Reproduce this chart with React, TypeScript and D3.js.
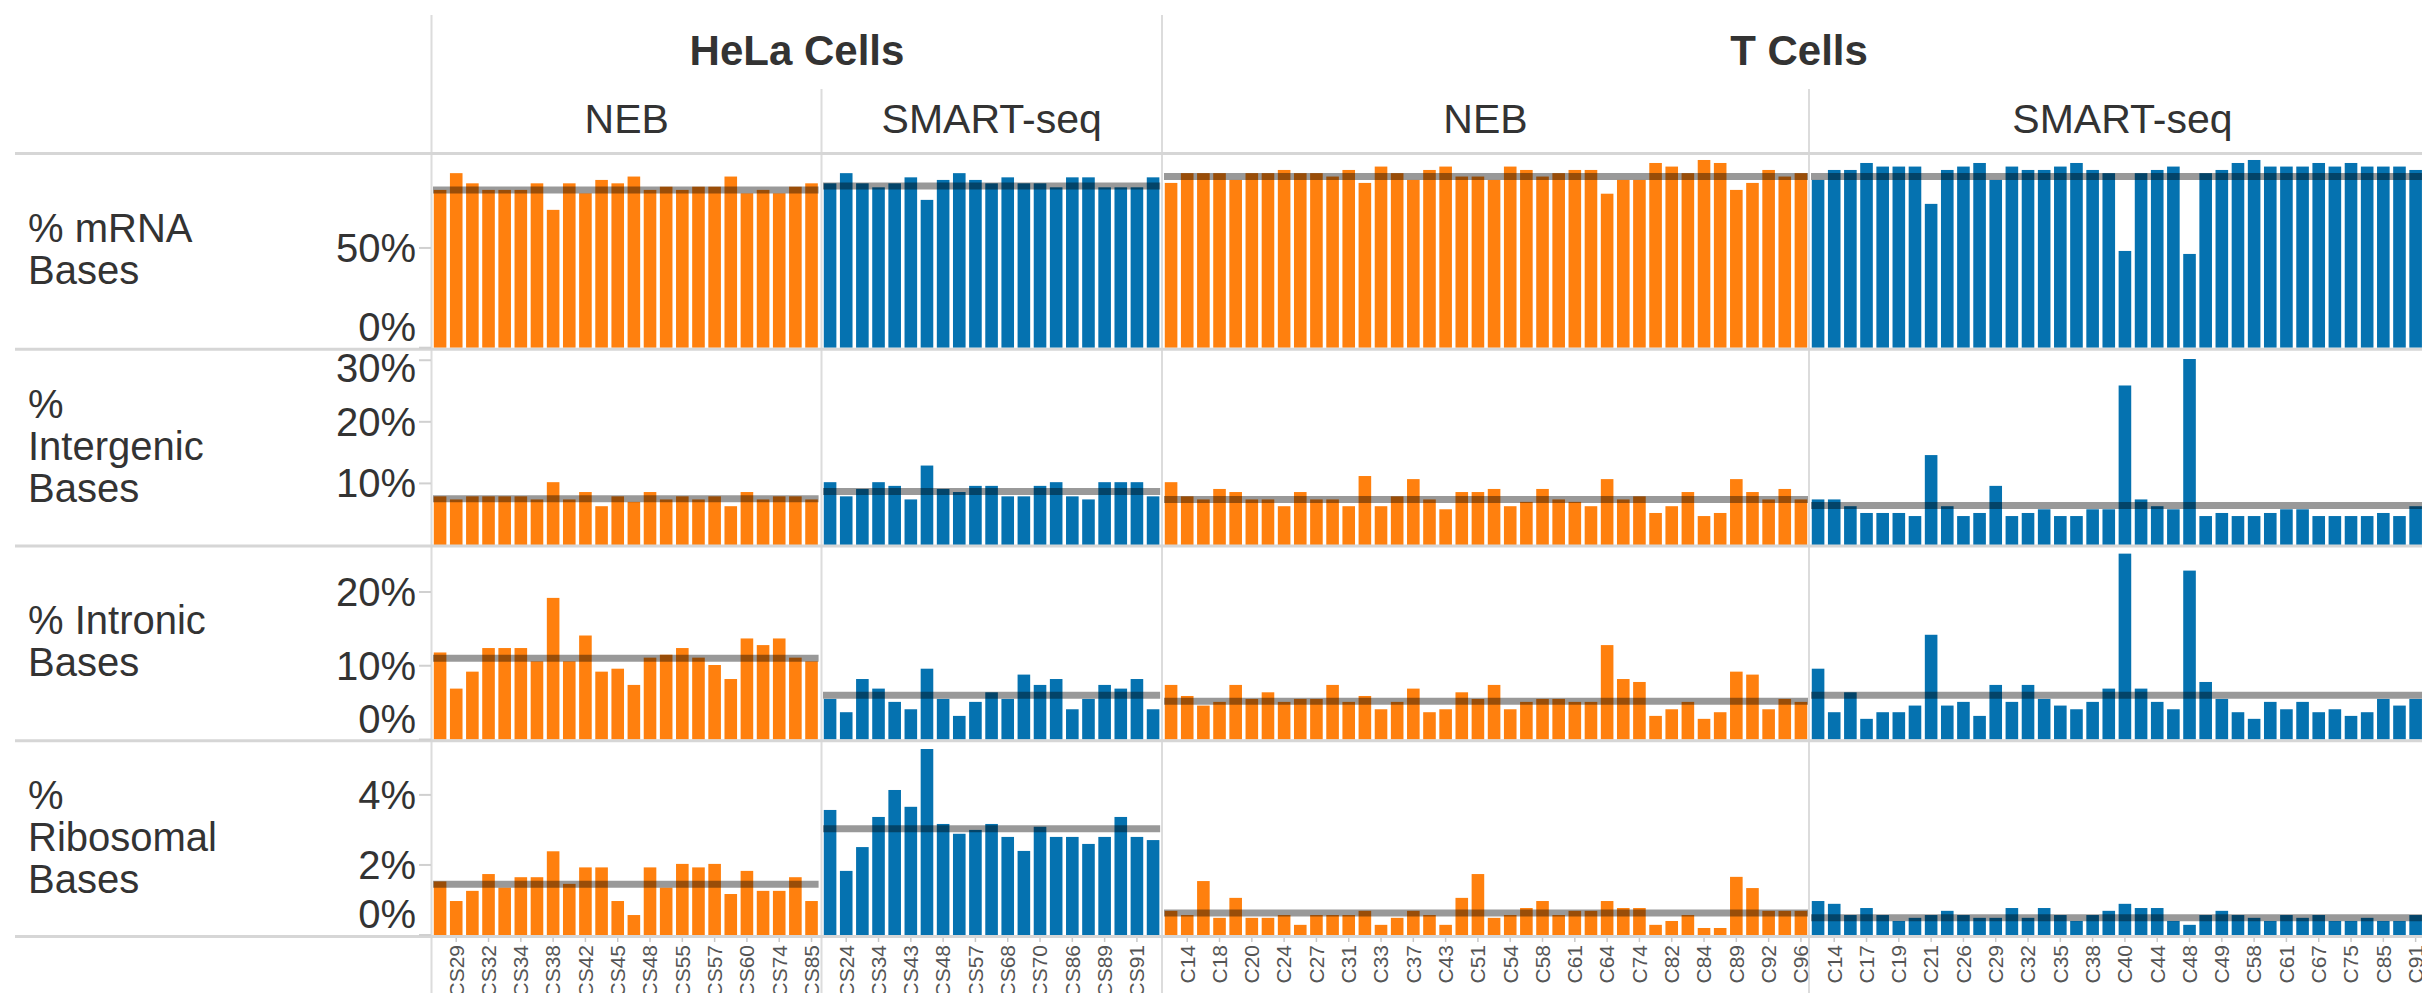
import React, { useEffect, useRef } from "react";
import * as d3 from "d3";

// ---- categories (cells) in each pane ----
const helaNebCells = ["CS27", "CS29", "CS31", "CS32", "CS33", "CS34", "CS36", "CS38", "CS40", "CS42", "CS44", "CS45", "CS46", "CS48", "CS50", "CS55", "CS56", "CS57", "CS59", "CS60", "CS62", "CS74", "CS80", "CS85"];
const helaSmartCells = ["CS22", "CS24", "CS30", "CS34", "CS39", "CS43", "CS46", "CS48", "CS52", "CS57", "CS58", "CS68", "CS69", "CS70", "CS79", "CS86", "CS87", "CS89", "CS90", "CS91", "CS95"];
const tNebCells = ["C13", "C14", "C16", "C18", "C19", "C20", "C22", "C24", "C25", "C27", "C29", "C31", "C32", "C33", "C35", "C37", "C40", "C43", "C46", "C51", "C52", "C54", "C56", "C58", "C59", "C61", "C62", "C64", "C70", "C74", "C78", "C82", "C83", "C84", "C86", "C89", "C90", "C92", "C94", "C96"];
const tSmartCells = ["C13", "C14", "C15", "C17", "C18", "C19", "C20", "C21", "C23", "C26", "C27", "C29", "C31", "C32", "C33", "C35", "C36", "C38", "C39", "C40", "C43", "C44", "C46", "C48", "C41", "C49", "C52", "C58", "C60", "C61", "C63", "C67", "C71", "C75", "C80", "C85", "C87", "C91"];

// ---- % mRNA bases ----
const helaNebMrna = [79.1, 87.5, 82.4, 79.1, 79.1, 79.1, 82.4, 69.1, 82.4, 77.4, 84.1, 82.4, 85.8, 79.1, 80.7, 79.1, 80.7, 80.7, 85.8, 77.4, 79.1, 77.4, 80.7, 82.4];
const helaSmartMrna = [82.4, 87.5, 82.4, 80.4, 82.4, 85.4, 74.1, 84.1, 87.5, 84.1, 82.4, 85.4, 82.4, 82.4, 80.4, 85.4, 85.4, 80.4, 80.4, 80.4, 85.4];
const tNebMrna = [82.6, 87.5, 87.5, 87.5, 84.1, 87.5, 87.5, 89.1, 87.5, 87.5, 85.8, 89.1, 82.6, 90.8, 87.5, 84.1, 89.1, 90.8, 85.8, 85.8, 84.1, 90.8, 89.1, 85.8, 87.5, 89.1, 89.1, 77.2, 84.1, 84.1, 92.6, 90.8, 87.5, 94.1, 92.6, 79.1, 82.6, 89.1, 85.8, 87.5];
const tSmartMrna = [84.1, 89.1, 89.1, 92.6, 90.8, 90.8, 90.8, 72.1, 89.1, 90.8, 92.6, 84.1, 90.8, 89.1, 89.1, 90.8, 92.6, 89.1, 87.5, 48.5, 87.5, 89.1, 90.8, 47.0, 87.5, 89.1, 92.6, 94.1, 90.8, 90.8, 90.8, 92.6, 90.8, 92.6, 90.8, 90.8, 90.8, 89.1];

// ---- % intergenic bases ----
const helaNebInter = [7.9, 7.4, 7.9, 7.9, 7.9, 7.9, 7.4, 10.2, 7.4, 8.6, 6.3, 7.9, 7.0, 8.6, 7.4, 7.9, 7.4, 7.9, 6.3, 8.6, 7.4, 7.9, 7.9, 7.4];
const helaSmartInter = [10.2, 7.9, 9.1, 10.2, 9.6, 7.4, 12.9, 9.1, 8.6, 9.6, 9.6, 7.9, 7.9, 9.6, 10.2, 7.9, 7.4, 10.2, 10.2, 10.2, 7.9];
const tNebInter = [10.2, 7.9, 7.4, 9.1, 8.6, 7.4, 7.4, 6.3, 8.6, 7.4, 7.4, 6.3, 11.2, 6.3, 7.9, 10.7, 7.4, 5.8, 8.6, 8.6, 9.1, 6.3, 7.0, 9.1, 7.4, 7.0, 6.3, 10.7, 7.4, 7.9, 5.2, 6.3, 8.6, 4.7, 5.2, 10.7, 8.6, 7.4, 9.1, 7.4];
const tSmartInter = [7.4, 7.4, 6.3, 5.2, 5.2, 5.2, 4.7, 14.6, 6.3, 4.7, 5.2, 9.6, 4.7, 5.2, 5.8, 4.7, 4.7, 5.8, 5.8, 25.9, 7.4, 6.3, 5.8, 30.2, 4.7, 5.2, 4.7, 4.7, 5.2, 5.8, 5.8, 4.7, 4.7, 4.7, 4.7, 5.2, 4.7, 6.3];

// ---- % intronic bases ----
const helaNebIntron = [11.8, 6.9, 9.2, 12.4, 12.4, 12.4, 10.6, 19.2, 10.6, 14.1, 9.2, 9.6, 7.4, 11.1, 11.5, 12.4, 11.1, 10.1, 8.2, 13.7, 12.8, 13.7, 11.1, 10.6];
const helaSmartIntron = [5.5, 3.7, 8.2, 6.9, 5.1, 4.1, 9.6, 5.5, 3.2, 5.1, 6.4, 5.5, 8.8, 7.4, 8.2, 4.1, 5.5, 7.4, 6.9, 8.2, 4.1];
const tNebIntron = [7.4, 5.9, 4.6, 5.1, 7.4, 5.5, 6.4, 5.1, 5.5, 5.5, 7.4, 5.1, 5.9, 4.1, 5.1, 6.9, 3.7, 4.1, 6.4, 5.5, 7.4, 4.1, 5.1, 5.5, 5.5, 5.1, 5.1, 12.8, 8.2, 7.8, 3.2, 4.1, 5.1, 2.8, 3.7, 9.2, 8.8, 4.1, 5.5, 5.1];
const tSmartIntron = [9.6, 3.7, 6.4, 2.8, 3.7, 3.7, 4.6, 14.2, 4.6, 5.1, 3.2, 7.4, 5.1, 7.4, 5.5, 4.6, 4.1, 5.1, 6.9, 25.2, 6.9, 5.1, 4.1, 22.9, 7.8, 5.5, 3.7, 2.8, 5.1, 4.1, 5.1, 3.7, 4.1, 3.2, 3.7, 5.5, 4.6, 5.5];

// ---- % ribosomal bases ----
const helaNebRibo = [1.53, 0.97, 1.26, 1.74, 1.35, 1.65, 1.65, 2.39, 1.46, 1.93, 1.93, 0.97, 0.57, 1.93, 1.35, 2.03, 1.93, 2.03, 1.17, 1.83, 1.26, 1.26, 1.65, 0.97];
const helaSmartRibo = [3.57, 1.83, 2.51, 3.37, 4.14, 3.66, 5.31, 3.17, 2.89, 3.0, 3.17, 2.8, 2.4, 3.09, 2.8, 2.8, 2.6, 2.8, 3.37, 2.8, 2.71];
const tNebRibo = [0.69, 0.57, 1.54, 0.49, 1.06, 0.49, 0.49, 0.57, 0.29, 0.57, 0.57, 0.57, 0.69, 0.29, 0.49, 0.69, 0.57, 0.29, 1.06, 1.74, 0.49, 0.57, 0.77, 0.97, 0.57, 0.69, 0.69, 0.97, 0.77, 0.77, 0.29, 0.4, 0.57, 0.2, 0.2, 1.66, 1.34, 0.69, 0.69, 0.69];
const tSmartRibo = [0.97, 0.89, 0.57, 0.77, 0.57, 0.4, 0.49, 0.57, 0.69, 0.57, 0.49, 0.49, 0.77, 0.49, 0.77, 0.57, 0.4, 0.57, 0.69, 0.89, 0.77, 0.77, 0.4, 0.29, 0.57, 0.69, 0.57, 0.49, 0.4, 0.57, 0.49, 0.57, 0.4, 0.4, 0.49, 0.4, 0.4, 0.57];

// ---- average reference lines, per pane (HeLa NEB, HeLa SMART, T NEB, T SMART) ----
const refMrna = [79.1, 81.0, 85.8, 85.8];
const refInter = [7.5, 8.7, 7.4, 6.4];
const refIntron = [11.0, 6.0, 5.2, 6.0];
const refRibo = [1.45, 3.03, 0.63, 0.49];

// ---- labels ----
const cellTypes = ["HeLa Cells", "T Cells"];
const protocols = ["NEB", "SMART-seq"];
const metricLabels = [["% mRNA", "Bases"], ["%", "Intergenic", "Bases"], ["% Intronic", "Bases"], ["%", "Ribosomal", "Bases"]];
const metricTicks = [[0, 50], [10, 20, 30], [0, 10, 20], [0, 2, 4]];

const orange = "#ff800e";
const blue = "#0572b0";
const FONT = "'Liberation Sans', Arial, sans-serif";

const App = () => {
  const ref = useRef<SVGSVGElement | null>(null);

  useEffect(() => {
    document.body.style.margin = "0";
    document.body.style.overflow = "hidden";

    const W = 2422,
      H = 993;
    const svg = d3.select(ref.current).attr("width", W).attr("height", H);
    svg.selectAll("*").remove();

    // panes: cell type x protocol
    const panes = [
      { cells: helaNebCells, rows: [helaNebMrna, helaNebInter, helaNebIntron, helaNebRibo], color: orange },
      { cells: helaSmartCells, rows: [helaSmartMrna, helaSmartInter, helaSmartIntron, helaSmartRibo], color: blue },
      { cells: tNebCells, rows: [tNebMrna, tNebInter, tNebIntron, tNebRibo], color: orange },
      { cells: tSmartCells, rows: [tSmartMrna, tSmartInter, tSmartIntron, tSmartRibo], color: blue },
    ];
    const refs = [refMrna, refInter, refIntron, refRibo];

    // layout
    const paneLeft = [432, 822, 1163, 1810];
    const step = 16.15;
    const groupSpan = [
      [432, 1162],
      [1162, 2436],
    ];
    const subSpan = [
      [432, 821.5],
      [821.5, 1162],
      [1162, 1809],
      [1809, 2436],
    ];
    const rowBox = [
      { top: 155, bottom: 347.7, max: 96.6 },
      { top: 351, bottom: 545, max: 31.5 },
      { top: 547, bottom: 739.5, max: 26.1 },
      { top: 742, bottom: 935, max: 5.51 },
    ];
    const sepY = [153.5, 349.3, 546, 740.8, 936.5];

    const xScales = panes.map((p, i) =>
      d3
        .scaleBand()
        .domain(p.cells)
        .range([paneLeft[i], paneLeft[i] + p.cells.length * step])
        .paddingInner(0.22)
        .paddingOuter(0.11)
    );
    const yScales = rowBox.map((r) => d3.scaleLinear().domain([0, r.max]).range([r.bottom, r.top]));

    // vertical grid lines
    const vlines = [
      { x: 431.5, y0: 15 },
      { x: 821.5, y0: 89 },
      { x: 1162, y0: 15 },
      { x: 1809, y0: 89 },
    ];
    svg
      .selectAll(".vline")
      .data(vlines)
      .enter()
      .append("line")
      .attr("x1", (d) => d.x)
      .attr("x2", (d) => d.x)
      .attr("y1", (d) => d.y0)
      .attr("y2", H)
      .attr("stroke", "#dcdcdc")
      .attr("stroke-width", 2);

    // bars
    panes.forEach((p, pi) => {
      const x = xScales[pi];
      p.rows.forEach((vals, ri) => {
        const y = yScales[ri];
        svg
          .append("g")
          .selectAll("rect")
          .data(vals)
          .enter()
          .append("rect")
          .attr("x", (_, i) => x(p.cells[i]) as number)
          .attr("y", (d) => y(d))
          .attr("width", x.bandwidth())
          .attr("height", (d) => y(0) - y(d))
          .attr("fill", p.color);

        // average reference line
        const [rx0, rx1] = x.range();
        svg
          .append("line")
          .attr("x1", rx0 + 1)
          .attr("x2", Math.min(rx1, subSpan[pi][1]) - 1)
          .attr("y1", y(refs[ri][pi]))
          .attr("y2", y(refs[ri][pi]))
          .attr("stroke", "#000")
          .attr("stroke-opacity", 0.4)
          .attr("stroke-width", 7);
      });
    });

    // horizontal separators
    svg
      .selectAll(".hline")
      .data(sepY)
      .enter()
      .append("line")
      .attr("x1", 15)
      .attr("x2", W)
      .attr("y1", (d) => d)
      .attr("y2", (d) => d)
      .attr("stroke", "#d6d6d6")
      .attr("stroke-width", 3);

    // header: cell type and protocol
    svg
      .selectAll(".group")
      .data(cellTypes)
      .enter()
      .append("text")
      .attr("x", (_, i) => (groupSpan[i][0] + groupSpan[i][1]) / 2)
      .attr("y", 65)
      .attr("text-anchor", "middle")
      .attr("font-family", FONT)
      .attr("font-weight", "bold")
      .attr("font-size", 42)
      .attr("fill", "#333")
      .text((d) => d);

    svg
      .selectAll(".proto")
      .data(subSpan)
      .enter()
      .append("text")
      .attr("x", (d) => (d[0] + d[1]) / 2)
      .attr("y", 133)
      .attr("text-anchor", "middle")
      .attr("font-family", FONT)
      .attr("font-size", 41)
      .attr("fill", "#333")
      .text((_, i) => protocols[i % 2]);

    // row labels + y axes
    rowBox.forEach((r, ri) => {
      const y = yScales[ri];
      const lines = metricLabels[ri];
      const mid = (r.top + r.bottom) / 2 - 2;
      const lh = 42;
      svg
        .append("text")
        .attr("font-family", FONT)
        .attr("font-size", 40)
        .attr("fill", "#333")
        .selectAll("tspan")
        .data(lines)
        .enter()
        .append("tspan")
        .attr("x", 28)
        .attr("y", (_, i) => mid + (i - (lines.length - 1) / 2) * lh)
        .attr("dy", "0.35em")
        .text((d) => d);

      const ticks = metricTicks[ri];
      svg
        .append("g")
        .selectAll("line")
        .data(ticks)
        .enter()
        .append("line")
        .attr("x1", 419)
        .attr("x2", 431)
        .attr("y1", (d) => y(d))
        .attr("y2", (d) => y(d))
        .attr("stroke", "#d0d0d0")
        .attr("stroke-width", 2);

      svg
        .append("g")
        .selectAll("text")
        .data(ticks)
        .enter()
        .append("text")
        .attr("x", 416)
        .attr("y", (d) => Math.max(r.top + 17, Math.min(r.bottom - 21, y(d))))
        .attr("dy", "0.35em")
        .attr("text-anchor", "end")
        .attr("font-family", FONT)
        .attr("font-size", 40)
        .attr("fill", "#333")
        .text((d) => `${d}%`);
    });

    // x axis: every other cell label shown (rotated)
    panes.forEach((p, pi) => {
      const x = xScales[pi];
      const shown = p.cells.filter((_, i) => i % 2 === 1);
      const g = svg.append("g");
      g.selectAll("line")
        .data(shown)
        .enter()
        .append("line")
        .attr("x1", (d) => (x(d) as number) + x.bandwidth() / 2)
        .attr("x2", (d) => (x(d) as number) + x.bandwidth() / 2)
        .attr("y1", 938)
        .attr("y2", 942)
        .attr("stroke", "#c8c8c8")
        .attr("stroke-width", 1.5);
      g.selectAll("text")
        .data(shown)
        .enter()
        .append("text")
        .attr("transform", (d) => `translate(${(x(d) as number) + x.bandwidth() / 2},945) rotate(-90)`)
        .attr("dy", "0.35em")
        .attr("text-anchor", "end")
        .attr("font-family", FONT)
        .attr("font-size", 21)
        .attr("fill", "#555")
        .text((d) => d);
    });
  }, []);

  return (
    <div style={{ position: "absolute", left: 0, top: 0, width: 2422, height: 993, overflow: "hidden", background: "#fff" }}>
      <svg ref={ref} style={{ display: "block" }}></svg>
    </div>
  );
};

export default App;
